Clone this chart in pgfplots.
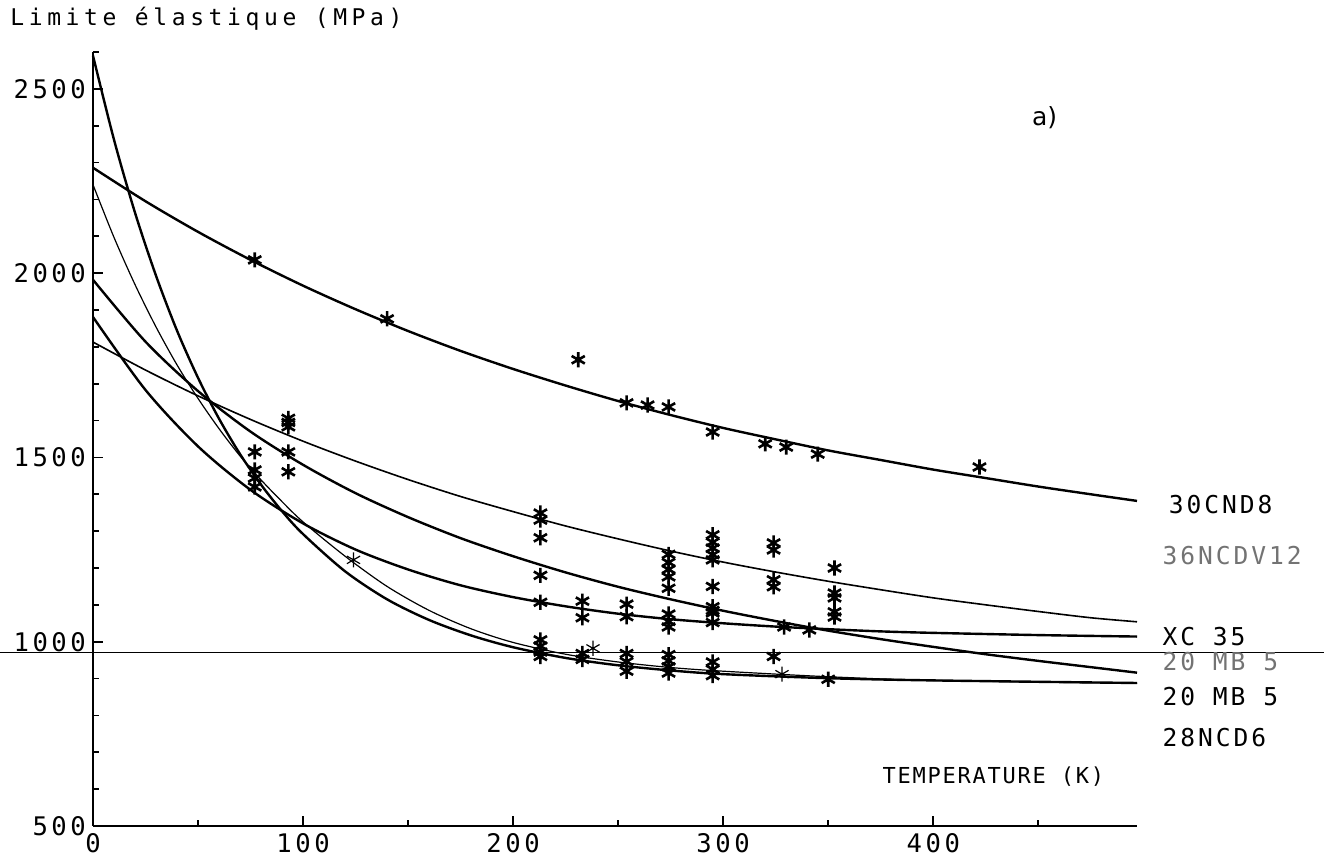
\documentclass[border=0pt]{standalone}
\usepackage{pgfplots}
\pgfplotsset{compat=1.18}
\usepackage{fontspec}
\setmainfont{DejaVu Sans}
\newfontfamily\tickfont{DejaVu Sans Mono}[LetterSpace=14]
\newfontfamily\ylabfont{DejaVu Sans Mono}[LetterSpace=20]
\newfontfamily\tempfont{DejaVu Sans Mono}[LetterSpace=8]
\newfontfamily\labfont{DejaVu Sans Mono}[LetterSpace=12]
\begin{document}
\begin{tikzpicture}
\useasboundingbox (-46.5pt,-15.5pt) rectangle (615.5pt,413pt);
\begin{axis}[
  scale only axis, width=522pt, height=387pt,
  at={(0pt,0pt)}, anchor=south west,
  xmin=0, xmax=497, ymin=500, ymax=2600,
  axis lines=left, axis line style={-, line width=1pt},
  xtick={0,100,200,300,400}, minor xtick={50,150,250,350,450},
  ytick={500,1000,1500,2000,2500},
  minor ytick={600,700,800,900,1100,1200,1300,1400,1600,1700,1800,1900,2100,2200,2300,2400,2600},
  tick align=inside, major tick length=5pt, minor tick length=3pt,
  tick style={black, line width=0.8pt},
  /pgf/number format/assume math mode=true,
  /pgf/number format/1000 sep={},
  ticklabel style={font=\tickfont\fontsize{12.8}{13}\selectfont},
  clip=false,
]
% fitted curves
\addplot[line width=1.2pt, smooth] coordinates {(0,2286) (25,2195) (50,2112) (75,2036) (100,1966) (125,1902) (150,1843) (175,1789) (200,1740) (225,1695) (250,1653) (275,1615) (300,1580) (325,1549) (350,1519) (375,1493) (400,1467) (425,1444) (450,1421) (475,1400) (497,1382)};
\addplot[line width=1.2pt, smooth] coordinates {(0,2590) (10,2362) (20,2164) (30,1993) (40,1844) (50,1716) (60,1605) (70,1509) (80,1426) (90,1354) (100,1292) (120,1191) (140,1115) (160,1059) (180,1017) (200,985) (225,956) (250,936) (275,922) (300,912) (350,901) (400,895) (497,888)};
\addplot[line width=0.6pt, smooth] coordinates {(0,2240) (10,2097) (20,1969) (30,1854) (40,1751) (50,1660) (60,1578) (70,1504) (80,1439) (90,1380) (100,1325) (120,1232) (140,1150) (160,1085) (180,1035) (200,998) (225,966) (250,945) (275,930) (300,920) (350,905) (400,895) (497,887)};
\addplot[line width=1.2pt, smooth] coordinates {(0,1982) (25,1814) (50,1680) (75,1570) (100,1480) (125,1403) (150,1338) (175,1281) (200,1232) (225,1188) (250,1149) (275,1115) (300,1084) (325,1056) (350,1030) (375,1007) (400,986) (425,966) (450,948) (475,931) (497,916)};
\addplot[line width=1.2pt, smooth] coordinates {(0,1881) (25,1683) (50,1530) (75,1412) (100,1321) (125,1250) (150,1196) (175,1153) (200,1121) (225,1096) (250,1076) (275,1061) (300,1050) (325,1041) (350,1034) (375,1028) (400,1024) (450,1018) (497,1014)};
\addplot[line width=0.8pt, smooth] coordinates {(0,1813) (25,1737) (50,1667) (75,1603) (100,1544) (125,1490) (150,1440) (175,1394) (200,1353) (225,1314) (250,1279) (275,1246) (300,1216) (325,1189) (350,1164) (375,1141) (400,1119) (425,1100) (450,1082) (475,1065) (497,1054)};
% measured points
\addplot[only marks, mark=asterisk, mark size=3.8pt, mark options={line width=1.3pt}] coordinates {
(77,2036) (140,1876) (231,1765) (254,1648) (264,1642) (274,1637) (295,1569) (320,1537) (330,1528) (345,1509) (422,1474)
(77,1515) (77,1466) (77,1444) (77,1420)
(93,1606) (93,1595) (93,1583) (93,1515) (93,1461)
(213,1349) (213,1330) (213,1282) (213,1180) (213,1107) (213,1005) (213,988) (213,972) (213,960)
(233,1110) (233,1065) (233,968) (233,952)
(254,1102) (254,1068) (254,968) (254,946) (254,920)
(274,1237) (274,1215) (274,1196) (274,1176) (274,1145) (274,1075) (274,1055) (274,1040) (274,965) (274,948) (274,932) (274,915)
(295,1290) (295,1270) (295,1254) (295,1236) (295,1222) (295,1150) (295,1095) (295,1085) (295,1078) (295,1052) (295,945) (295,925) (295,908)
(329,1040) (341,1032)
(324,1268) (324,1249) (324,1168) (324,1149) (324,960)
(353,1200) (353,1132) (353,1119) (353,1081) (353,1067)
(350,898)
};
\addplot[only marks, mark=asterisk, mark size=3.8pt, mark options={line width=0.6pt}] coordinates {(124,1222) (238,982) (328,912)};
% reference line
\draw[line width=0.7pt] (axis cs:-44.3,970) -- (axis cs:586,970);
% texts
\node[anchor=west, inner sep=0pt, font=\ylabfont\fontsize{11.5}{12}\selectfont] at (axis cs:-39.5,2690) {Limite élastique (MPa)};
\node[anchor=west, inner sep=0pt, font=\tempfont\fontsize{11}{12}\selectfont] at (axis cs:375.7,633) {TEMPERATURE (K)};
\node[inner sep=0pt, font=\fontsize{12.5}{13}\selectfont] at (axis cs:453,2421) {a)};
\node[anchor=west, inner sep=0pt, font=\labfont\fontsize{12.3}{13}\selectfont] at (axis cs:512,1371) {30CND8};
\node[anchor=west, inner sep=0pt, text=black!55, font=\labfont\fontsize{12.3}{13}\selectfont] at (axis cs:509,1233) {36NCDV12};
\node[anchor=west, inner sep=0pt, font=\labfont\fontsize{12.3}{13}\selectfont] at (axis cs:509,1013) {XC 35};
\node[anchor=west, inner sep=0pt, text=black!55, font=\labfont\fontsize{12.3}{13}\selectfont] at (axis cs:509,945) {20 MB 5};
\node[anchor=west, inner sep=0pt, font=\labfont\fontsize{12.3}{13}\selectfont] at (axis cs:509,850) {20 MB 5};
\node[anchor=west, inner sep=0pt, font=\labfont\fontsize{12.3}{13}\selectfont] at (axis cs:509,739) {28NCD6};
\end{axis}
\end{tikzpicture}
\end{document}
